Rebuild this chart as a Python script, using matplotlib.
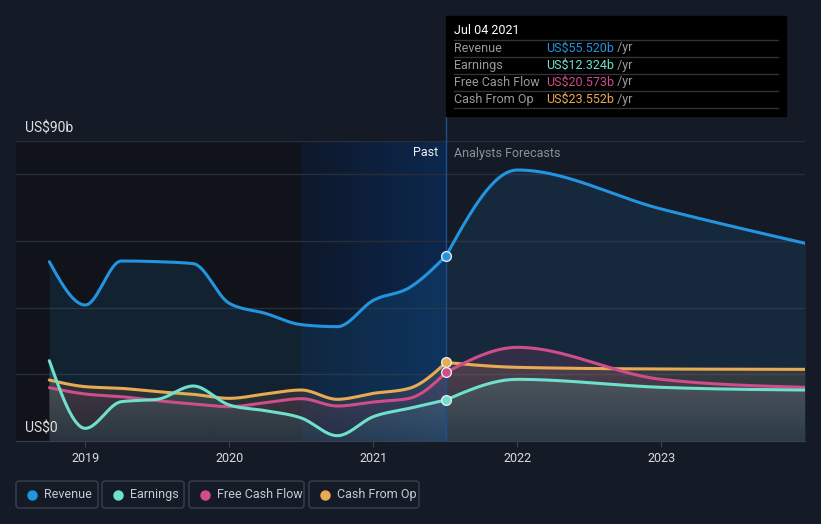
import numpy as np
import matplotlib.pyplot as plt
from matplotlib.patches import Rectangle, FancyBboxPatch
from matplotlib.colors import to_rgb

plt.rcParams['font.family'] = ['Roboto', 'DejaVu Sans']

# ---- data (US$ billions) ----
past_x = [2018.75, 2019.0, 2019.25, 2019.5, 2019.75, 2020.0, 2020.25, 2020.5,
          2020.75, 2021.0, 2021.25, 2021.505]
fc_x = [2021.505, 2022.0, 2023.0, 2024.0]

revenue_past = [53.8, 40.8, 54.0, 53.8, 53.2, 41.3, 38.3, 34.9, 34.3, 42.2, 46.0, 55.52]
earnings_past = [24.1, 3.8, 11.8, 12.5, 16.5, 10.8, 9.1, 6.9, 1.6, 7.3, 9.8, 12.324]
fcf_past = [16.0, 14.1, 13.3, 12.1, 11.1, 10.3, 11.5, 12.7, 10.5, 11.7, 12.8, 20.573]
cfo_past = [18.3, 16.3, 15.8, 14.8, 14.0, 12.8, 14.1, 15.3, 12.5, 14.3, 15.8, 23.552]

revenue_fc = [55.52, 81.3, 69.6, 59.3]
earnings_fc = [12.324, 18.5, 16.1, 15.3]
fcf_fc = [20.573, 28.1, 18.5, 16.1]
cfo_fc = [23.552, 22.1, 21.6, 21.5]

names = ['Revenue', 'Earnings', 'Free Cash Flow', 'Cash From Op']
colors = ['#2394df', '#6fe0cb', '#cf4d8a', '#e8aa55']
tip_vals = ['US$55.520b', 'US$12.324b', 'US$20.573b', 'US$23.552b']
years = [2019, 2020, 2021, 2022, 2023]


def monotone(x, y, n=60):
    # monotone cubic (like d3 curveMonotoneX) just for drawing the smooth line
    x = np.asarray(x, float); y = np.asarray(y, float)
    h = np.diff(x); s = np.diff(y) / h
    t = np.zeros_like(y)
    for i in range(1, len(y) - 1):
        p = (s[i-1]*h[i] + s[i]*h[i-1]) / (h[i-1] + h[i])
        t[i] = (np.sign(s[i-1]) + np.sign(s[i])) * min(abs(s[i-1]), abs(s[i]), 0.5*abs(p))
    t[0] = (3*s[0] - t[1]) / 2 if len(y) > 2 else s[0]
    t[-1] = (3*s[-1] - t[-2]) / 2 if len(y) > 2 else s[-1]
    xs, ys = [], []
    for i in range(len(h)):
        u = np.linspace(0, 1, n)
        h00 = 2*u**3 - 3*u**2 + 1; h10 = u**3 - 2*u**2 + u
        h01 = -2*u**3 + 3*u**2; h11 = u**3 - u**2
        xs.append(x[i] + u*h[i])
        ys.append(h00*y[i] + h10*h[i]*t[i] + h01*y[i+1] + h11*h[i]*t[i+1])
    return np.concatenate(xs), np.concatenate(ys)


W, H = 821, 524
bg = '#151b26'
fig = plt.figure(figsize=(W/100, H/100), dpi=100, facecolor=bg)
ax = fig.add_axes([16/W, (H-441)/H, 789/W, 300/H])
ax.set_facecolor(bg)
x0 = 2019 - 69.3/144
x1 = 2019 + 719.7/144

# darker older part + highlighted recent past
ax.axvspan(x0, 2020.5, color='#10131a', zorder=0, lw=0)
grad = np.linspace(0, 1, 200)[None, :]
cols = np.zeros((1, 200, 3))
c_a = np.array([14, 24, 42]) / 255
c_b = np.array([12, 40, 78]) / 255
cols[0] = c_a + (c_b - c_a) * grad.T
ax.imshow(cols, extent=[2020.5, 2021.505, 0, 90], aspect='auto', zorder=0.5,
          interpolation='bilinear')

for g in [20, 40, 60, 80, 90]:
    ax.axhline(g, color='#272d39', lw=1, zorder=1)

series = [(revenue_past, revenue_fc), (earnings_past, earnings_fc),
          (fcf_past, fcf_fc), (cfo_past, cfo_fc)]
alphas = [0.12, 0.17, 0.15, 0.15]
curves = []
for (p, f) in series:
    xp, yp = monotone(past_x, p)
    xf, yf = monotone(fc_x, f)
    curves.append((np.concatenate([xp, xf]), np.concatenate([yp, yf])))

# fills: revenue flat, the others fade toward zero
xc, yc = curves[0]
ax.fill_between(xc, 0, yc, color=colors[0], alpha=alphas[0], lw=0, zorder=2)
yy = np.linspace(0, 90, 300)
for idx in [3, 2, 1]:
    xc, yc = curves[idx]
    img = np.zeros((300, 2, 4))
    img[..., :3] = to_rgb(colors[idx])
    img[..., 3] = (alphas[idx] * (0.35 + 0.65 * np.clip(yy / 22, 0, 1)))[:, None]
    im = ax.imshow(img, extent=[x0, x1, 0, 90], origin='lower', aspect='auto',
                   zorder=2, interpolation='bilinear')
    poly = ax.fill_between(xc, 0, yc, facecolor='none', lw=0)
    im.set_clip_path(poly.get_paths()[0], transform=ax.transData)
# lines
for idx in [0, 3, 2, 1]:
    xc, yc = curves[idx]
    ax.plot(xc, yc, color=colors[idx], lw=2.2, zorder=3, solid_capstyle='round')

ax.axvline(2021.505, color='#1c4f8c', lw=1, zorder=2.5)
last = [revenue_past[-1], earnings_past[-1], fcf_past[-1], cfo_past[-1]]
for v, c in zip(last, colors):
    ax.plot([2021.505], [v], 'o', ms=7, mfc=c, mec='#e8e8e8', mew=1, zorder=4)

ax.set_xlim(x0, x1)
ax.set_ylim(0, 90)
for sp in ['left', 'right', 'top']:
    ax.spines[sp].set_visible(False)
ax.spines['bottom'].set_color('#3a404c')
ax.set_yticks([])
ax.set_xticks(years)
ax.set_xticklabels([str(y) for y in years])
ax.tick_params(axis='x', length=4, color='#3a404c', labelcolor='#dcdcdc',
               labelsize=9, pad=4)

# overlay in pixel coordinates
ov = fig.add_axes([0, 0, 1, 1], facecolor='none')
ov.set_xlim(0, W)
ov.set_ylim(H, 0)
ov.axis('off')

ov.text(25, 129, 'US$90b', color='#e0e0e0', fontsize=10, va='center')
ov.text(25, 429, 'US$0', color='#e0e0e0', fontsize=10, va='center')
ov.text(438, 153, 'Past', color='#f0f0f0', fontsize=9, va='center', ha='right')
ov.text(454, 153, 'Analysts Forecasts', color='#8b9099', fontsize=9, va='center')

# vertical line up to the tooltip
ov.plot([446, 446], [116, 141], color='#1c4f8c', lw=1)

# tooltip
ov.add_patch(Rectangle((446, 16), 340, 100, color='#000000', zorder=5))
ov.text(454, 31, 'Jul 04 2021', color='#ffffff', fontsize=9, va='center', zorder=6)
for yl in [40.3, 57.3, 74.3, 91.3, 108.3]:
    ov.plot([454, 778], [yl, yl], color='#333333', lw=1, zorder=6)
for k in range(4):
    ty = 48 + k*17
    ov.text(454, ty, names[k], color='#9a9a9a', fontsize=9, va='center', zorder=6)
    t = ov.text(546, ty, tip_vals[k], color=colors[k], fontsize=9, va='center', zorder=6)
    ov.annotate(' /yr', xy=(1, 0.5), xycoords=t, va='center', color='#9a9a9a',
                fontsize=9, zorder=6)

# legend
boxes = [(16, 98), (102, 184), (189, 304), (309, 419)]
for k, (bx0, bx1) in enumerate(boxes):
    ov.add_patch(FancyBboxPatch((bx0, 481), bx1 - bx0, 27,
                                boxstyle='round,pad=0,rounding_size=3',
                                fc='none', ec='#3a404c', lw=1))
    ov.plot([bx0 + 16], [494.5], 'o', ms=6.5, color=colors[k])
    ov.text(bx0 + 28, 494.5, names[k], color='#c6cad0', fontsize=9, va='center')

fig.savefig('out.png', dpi=100, facecolor=bg)
